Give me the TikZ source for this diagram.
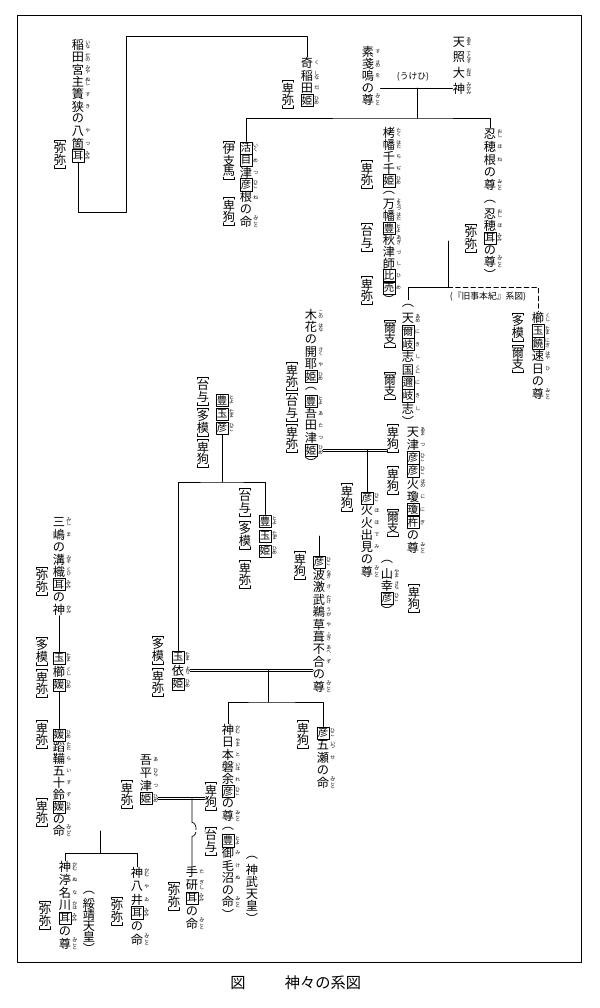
\documentclass[tikz,border=0pt]{standalone}
\usepackage{fontspec}
\setmainfont{Noto Sans CJK JP}
\usepackage{tikz}
\usetikzlibrary{calc}

\newcommand{\fz}{\fontsize{10.4}{10.4}\selectfont}
\newcommand{\fb}{\fontsize{8.9}{8.9}\selectfont}
\newcommand{\fr}{\fontsize{4.2}{4.2}\selectfont}

% stack the characters of #1 top to bottom
\makeatletter
\newcommand{\vst}[1]{\vbox{\offinterlineskip\@tfor\vs@c:=#1\do{\hbox to 1.05em{\hss\vs@c\hss}}}}
\makeatother

% one name in a column: name, x, y of first char, step, list char/ruby/style
\newcommand{\nm}[5]{%
  \foreach \zc/\zr/\zb [count=\i] in {#5} {
    \node[ch,\zb] (#1-\i) at (#2,{#3+(\i-1)*#4}) {\zc};
    \node[rb] at (#1-\i.east) {\expandafter\vst\expandafter{\zr}};
  }}

% bracketed note, vertical
\newcommand{\ann}[4]{%
  \node[an] (#1) at (#2,#3) {\vst{#4}};
  \draw[brk] ([xshift=1pt,yshift=-2pt]#1.north west) -- ([xshift=1pt]#1.north west) -- ([xshift=-1pt]#1.north east) -- ([xshift=-1pt,yshift=-2pt]#1.north east);
  \draw[brk] ([xshift=1pt,yshift=2pt]#1.south west) -- ([xshift=1pt]#1.south west) -- ([xshift=-1pt]#1.south east) -- ([xshift=-1pt,yshift=2pt]#1.south east);}

\begin{document}
\begin{tikzpicture}[x=0.03cm, y=-0.03cm, line cap=round, line join=round,
  ch/.style={font=\fz, inner sep=0.2pt, minimum size=0.36cm},
  kb/.style={draw, font=\fb, minimum size=0.37cm, line width=0.45pt},
  kn/.style={},
  rb/.style={anchor=west, inner sep=0.3pt, font=\fr},
  an/.style={anchor=north, inner xsep=0pt, inner ysep=2.1pt, font=\fz},
  brk/.style={line width=0.4pt},
  ln/.style={line width=0.6pt},
  dbl/.style={double, double distance=1.3pt, line width=0.45pt},
  lb/.style={font=\fontsize{7.5}{8}\selectfont, inner sep=1pt},
  captxt/.style={font=\fontsize{13}{13}\selectfont}]

  \useasboundingbox (0,0) rectangle (600,1008);

  % frame
  \draw[line width=0.8pt] (17,15) rectangle (581,962);

  %--------------------------
  % Amaterasu, Susanoo
  %--------------------------
  \nm{amat}{459}{42}{15.5}{天/あま/kn, 照/てらす/kn, 大/おほ/kn, 神/みかみ/kn}
  \nm{susa}{368}{52}{12}{素/す/kn, 戔/さの/kn, 嗚/を/kn, の//kn, 尊/みこと/kn}
  \nm{kushi}{307}{63}{12.5}{奇/く/kn, 稲/しな/kn, 田/だ/kn, 姫/ひめ/kb}
  \ann{kushi-a}{288}{80}{卑弥}

  \nm{inada}{78}{45}{12.3}{稲/いな/kn, 田/だの/kn, 宮/みや/kn, 主/ぬし/kn, 簀/す/kn, 狭/き/kn, の//kn, 八/や/kn, 箇/つ/kn, 耳/みみ/kb}
  \ann{inada-a}{60}{140}{弥弥}

  \node[lb] (ukehi) at (413,77) {(うけひ)};

  \nm{ikume}{246}{148}{12.3}{活/いく/kb, 目/め/kb, 津/つ/kn, 彦/ひこ/kb, 根/ね/kn, の//kn, 命/みこと/kn}
  \ann{ikume-a}{229}{141}{伊支馬}
  \ann{ikume-b}{229}{197}{卑狗}

  %--------------------------
  % Oshihomimi, Takuhata
  %--------------------------
  \nm{oshi}{490}{134}{12.8}{忍/おし/kn, 穂/ほ/kn, 根/ね/kn, の//kn, 尊/みこと/kn}
  \nm{oshim}{490}{202}{12}{︵//kn, 忍/おし/kn, 穂/ほ/kn, 耳/みみ/kb, の//kn, 尊/みこと/kn, ︶//kn}
  \ann{oshi-a}{471}{224}{弥弥}

  \nm{taku}{389}{133}{11.9}{栲/たく/kn, 幡/はた/kn, 千/ち/kn, 千/ぢ/kn, 姫/ひめ/kb, ︵//kn, 万/よろづ/kn, 幡/はた/kn, 豊/とよ/kb, 秋/あき/kn, 津/づ/kn, 師/し/kn, 比/ひ/kb, 売/め/kb, ︶//kn}
  \ann{taku-a}{367}{160}{卑弥}
  \ann{taku-b}{367}{223}{台与}
  \ann{taku-c}{367}{276}{卑弥}

  \node[lb] (kuji) at (488,297) {(『旧事本紀』系図)};

  \nm{nigi}{408}{306}{12.8}{︵//kn, 天/あめ/kn, 爾/に/kb, 岐/き/kb, 志/し/kn, 国/くに/kn, 邇/に/kb, 岐/き/kb, 志/し/kn, ︶//kn}
  \ann{nigi-a}{390}{320}{爾支}
  \ann{nigi-b}{390}{372}{爾支}

  \nm{hayahi}{538}{318}{12.7}{櫛/くし/kn, 玉/たま/kb, 饒/にぎ/kb, 速/はや/kn, 日/ひ/kn, の//kn, 尊/みこと/kn}
  \ann{hayahi-a}{518}{313}{多模}
  \ann{hayahi-b}{518}{345}{爾支}

  %--------------------------
  % Ninigi, Konohana
  %--------------------------
  \nm{kono}{311}{315}{12.3}{木/この/kn, 花/はな/kn, の//kn, 開/さく/kn, 耶/や/kn, 姫/ひめ/kb, ︵//kn, 豊/とよ/kb, 吾/あ/kn, 田/た/kn, 津/つ/kn, 姫/ひめ/kb, ︶//kn}
  \ann{kono-a}{292}{362}{卑弥}
  \ann{kono-b}{292}{393}{台与}
  \ann{kono-c}{292}{424}{卑弥}

  \nm{ninigi}{413}{432}{12.9}{天/あま/kn, 津/つ/kn, 彦/ひこ/kb, 彦/ひこ/kb, 火/ほの/kn, 瓊/に/kn, 瓊/に/kb, 杵/ぎ/kb, の//kn, 尊/みこと/kn}
  \ann{ninigi-a}{393}{424}{卑狗}
  \ann{ninigi-b}{393}{466}{卑狗}
  \ann{ninigi-c}{393}{509}{爾支}

  \nm{hoori}{367}{498}{12.3}{彦/ひこ/kb, 火/ほ/kn, 火/ほ/kn, 出/で/kn, 見/み/kn, の//kn, 尊/みこと/kn}
  \ann{hoori-a}{347}{483}{卑狗}
  \nm{yama}{387}{562}{12}{︵//kn, 山/やま/kn, 幸/さち/kn, 彦/ひこ/kb, ︶//kn}
  \ann{yama-a}{414}{584}{卑狗}

  %--------------------------
  % Toyotama
  %--------------------------
  \nm{tyhiko}{222}{400}{14}{豊/とよ/kb, 玉/たま/kb, 彦/ひこ/kb}
  \ann{tyhiko-a}{203}{377}{台与}
  \ann{tyhiko-b}{203}{408}{多模}
  \ann{tyhiko-c}{203}{439}{卑狗}

  \nm{tyhime}{265}{521}{15}{豊/とよ/kb, 玉/たま/kb, 姫/ひめ/kb}
  \ann{tyhime-a}{245}{488}{台与}
  \ann{tyhime-b}{245}{521}{多模}
  \ann{tyhime-c}{245}{560}{卑弥}

  \nm{ugaya}{319}{562}{12.5}{彦/ひこ/kb, 波/なぎ/kn, 激/さ/kn, 武/たけ/kn, 鵜/うが/kn, 草/や/kn, 葺/ふき/kn, 不/あへ/kn, 合/ず/kn, の//kn, 尊/みこと/kn}
  \ann{ugaya-a}{300}{551}{卑狗}

  \nm{tamayori}{178}{657}{13.5}{玉/たま/kb, 依/より/kn, 姫/ひめ/kb}
  \ann{tamayori-a}{158}{636}{多模}
  \ann{tamayori-b}{158}{668}{卑弥}

  \nm{itsuse}{323}{733}{12.5}{彦/ひこ/kb, 五/いつ/kn, 瀬/せ/kn, の//kn, 命/みこと/kn}
  \ann{itsuse-a}{303}{720}{卑狗}

  %--------------------------
  % Jimmu and children
  %--------------------------
  \nm{iware}{228}{730}{12.3}{神/かむ/kn, 日/やま/kn, 本/と/kn, 磐/いは/kn, 余/れ/kn, 彦/ひこ/kb, の//kn, 尊/みこと/kn, ︵//kn, 豊/とよ/kb, 御/み/kn, 毛/け/kn, 沼/ぬ/kn, の//kn, 命/みこと/kn, ︶//kn}
  \ann{iware-a}{211}{782}{卑狗}
  \ann{iware-b}{211}{827}{台与}
  \nm{jimmu}{252}{858}{12}{︵//kn, 神//kn, 武//kn, 天//kn, 皇//kn, ︶//kn}

  \nm{ahira}{146}{760}{12.8}{吾/あ/kn, 平/ひら/kn, 津/つ/kn, 姫/ひめ/kb}
  \ann{ahira-a}{127}{780}{卑弥}

  \nm{tagishi}{192}{872}{13}{手/た/kn, 研/ぎし/kn, 耳/みみ/kb, の//kn, 命/みこと/kn}
  \ann{tagishi-a}{174}{882}{弥弥}
  \nm{yai}{137}{873}{13.3}{神/かむ/kn, 八/や/kn, 井/ゐ/kn, 耳/みみ/kb, の//kn, 命/みこと/kn}
  \ann{yai-a}{117}{897}{弥弥}
  \nm{nunakawa}{65}{867}{12.8}{神/かむ/kn, 渟/ぬ/kn, 名/な/kn, 川/かは/kn, 耳/みみ/kb, の//kn, 尊/みこと/kn}
  \nm{suizei}{89}{893}{11}{︵//kn, 綏//kn, 靖//kn, 天//kn, 皇//kn, ︶//kn}
  \ann{nunakawa-a}{45}{901}{弥弥}

  %--------------------------
  % Mishima line (left)
  %--------------------------
  \nm{mizo}{59}{522}{12.5}{三/みし/kn, 嶋/ま/kn, の//kn, 溝/みぞ/kn, 樴/くひ/kn, 耳/みみ/kb, の//kn, 神/かみ/kn}
  \ann{mizo-a}{42}{567}{弥弥}
  \nm{tamakushi}{59}{658}{13.5}{玉/たま/kb, 櫛/くし/kn, 媛/ひめ/kb}
  \ann{tamakushi-a}{42}{637}{多模}
  \ann{tamakushi-b}{42}{669}{卑弥}
  \nm{isuzu}{59}{735}{12}{媛/ひめ/kb, 蹈/たた/kn, 鞴/ら/kn, 五/い/kn, 十/す/kn, 鈴/ず/kn, 媛/ひめ/kb, の//kn, 命/みこと/kn}
  \ann{isuzu-a}{42}{720}{卑弥}
  \ann{isuzu-b}{42}{798}{卑弥}

  %--------------------------
  % Connectors
  %--------------------------
  \coordinate (c1) at (126,212);
  \coordinate (c2) at (126,36);
  \draw[ln] (inada-10.south) |- (c1) -- (c2) -| (kushi-1.north);
  \draw[dbl] ([xshift=5pt]kushi-3.east) -- (kushi-3.east -| susa-3.west);
  \draw[ln] ([xshift=5pt]susa-4.east) -- (susa-4.east -| amat-4.west);

  \coordinate (uk) at (417,88);
  \coordinate (j1) at (417,118);
  \draw[ln] (uk) -- (j1);
  \draw[ln] (ikume-1.north) |- (j1) -| (oshi-1.north);

  \draw[dbl] ([xshift=5pt]taku-10.east) -- (taku-10.east -| oshi-a.west);
  \coordinate (m2) at (448,241);
  \coordinate (j2) at (448,287);
  \draw[ln] (m2) -- (j2) -| (nigi-1.north);
  \draw[ln, dash pattern=on 4pt off 2.5pt] (j2) -| (hayahi-1.north);

  \draw[dbl] ([xshift=5pt]kono-12.east) -- (kono-12.east -| ninigi-a.west);
  \draw[ln] (hoori-1.north |- kono-12.east) -- (hoori-1.north);

  \coordinate (j4) at (222,482);
  \draw[ln] (tyhiko-3.south) -- (j4);
  \draw[ln] (tamayori-1.north) |- (j4) -| (tyhime-1.north);

  \draw[dbl] ([xshift=5pt]tyhime-2.east) -- (tyhime-2.east -| hoori-4.west);
  \draw[ln] (ugaya-1.north |- tyhime-2.east) -- (ugaya-1.north);

  \draw[dbl] ([xshift=5pt]tamayori-2.east) -- (tamayori-2.east -| ugaya-10.west);
  \coordinate (j5) at (268,702);
  \draw[ln] (j5 |- tamayori-2.east) -- (j5);
  \draw[ln] (iware-1.north) |- (j5) -| (itsuse-1.north);

  \draw[dbl] ([xshift=5pt]ahira-4.east) -- (ahira-4.east -| iware-a.west);
  \draw[ln] (tagishi-1.north |- ahira-4.east) -- ++(0,24) to[out=0,in=0] ++(0,14) -- (tagishi-1.north);

  \draw[dbl] ([xshift=5pt]isuzu-9.east) -- (isuzu-9.east -| iware-b.west);
  \coordinate (j7) at (100,853);
  \draw[ln] (j7 |- isuzu-9.east) -- (j7);
  \draw[ln] (nunakawa-1.north) |- (j7) -| (yai-1.north);

  \draw[ln] (mizo-8.south) -- (tamakushi-1.north);
  \draw[ln] (tamakushi-3.south) -- (isuzu-1.north);

  % caption
  \node[captxt] (fig) at (238,983) {図};
  \node[captxt] (title) at (323,983) {神々の系図};

\end{tikzpicture}
\end{document}
